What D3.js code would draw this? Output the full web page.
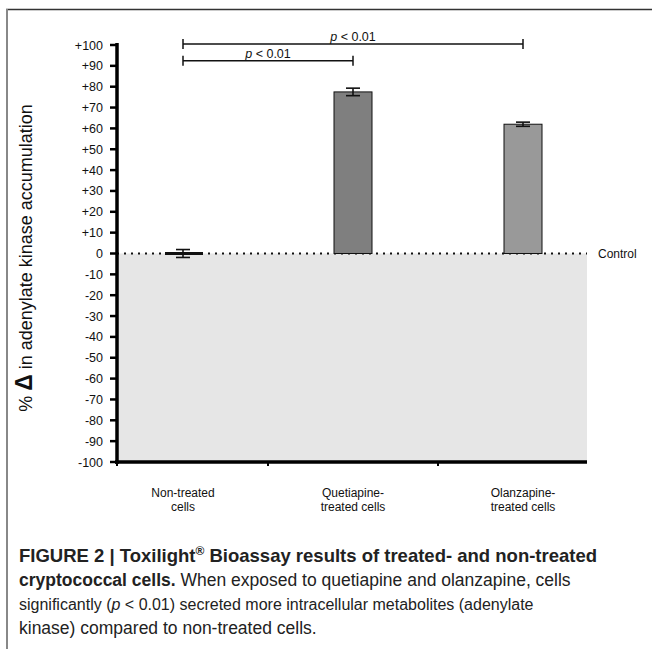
<!DOCTYPE html>
<html>
<head>
<meta charset="utf-8">
<script src="https://cdn.jsdelivr.net/npm/d3@7"></script>
<style>
  html, body { margin: 0; padding: 0; background: #fff; }
  svg { display: block; }
  text { font-family: "Liberation Sans", Arial, sans-serif; }
</style>
</head>
<body>
<svg id="chart" width="652" height="649"></svg>
<script>
// Treatment groups and their label lines
const categories = ["Non-treated cells", "Quetiapine-treated cells", "Olanzapine-treated cells"];
const categoryLines = [["Non-treated", "cells"], ["Quetiapine-", "treated cells"], ["Olanzapine-", "treated cells"]];
// % change in adenylate kinase accumulation relative to control
const values = [0, 77.5, 62];
const errors = [1.9, 1.8, 1];
const barFills = ["#7f7f7f", "#7f7f7f", "#999999"];
// Y ticks every 10 from -100 to +100
const yTicks = d3.range(-100, 101, 10);
// Significance comparisons: [from, to, bracket level]
const comparisons = [
  ["Non-treated cells", "Olanzapine-treated cells", 100],
  ["Non-treated cells", "Quetiapine-treated cells", 92]
];
const sigLabel = "< 0.01";

const svg = d3.select("#chart");

// Frame around the figure panel
svg.append("line").attr("x1", 6).attr("x2", 652).attr("y1", 9.5).attr("y2", 9.5)
  .attr("stroke", "#333").attr("stroke-width", 1.5);
svg.append("line").attr("x1", 7).attr("x2", 7).attr("y1", 9).attr("y2", 649)
  .attr("stroke", "#888").attr("stroke-width", 2);

const x = d3.scalePoint().domain(categories).range([183, 523]);
const y = d3.scaleLinear().domain([-100, 100]).range([462, 45]);
const axisLeft = 117, axisRight = 587;
const barW = 38;

// Grey region below the control level
svg.append("rect")
  .attr("x", axisLeft).attr("y", y(0))
  .attr("width", axisRight - axisLeft).attr("height", y(-100) - y(0))
  .attr("fill", "#e6e6e6");

// Control dotted line
svg.append("line")
  .attr("x1", axisLeft).attr("x2", axisRight)
  .attr("y1", y(0)).attr("y2", y(0))
  .attr("stroke", "#111").attr("stroke-width", 2).attr("stroke-dasharray", "2,5");
svg.append("text").attr("x", 598).attr("y", y(0) + 4.5)
  .attr("font-size", 12).attr("fill", "#111").text("Control");

// Bars
const bars = svg.append("g");
categories.forEach((c, i) => {
  const v = values[i];
  const top = y(Math.max(0, v)), bottom = y(Math.min(0, v));
  if (v !== 0) {
    bars.append("rect")
      .attr("x", x(c) - barW / 2).attr("y", top)
      .attr("width", barW).attr("height", bottom - top)
      .attr("fill", barFills[i]).attr("stroke", "#111").attr("stroke-width", 1);
  } else {
    bars.append("line")
      .attr("x1", x(c) - barW / 2 + 1).attr("x2", x(c) + barW / 2 + 1)
      .attr("y1", y(0)).attr("y2", y(0))
      .attr("stroke", "#111").attr("stroke-width", 3);
  }
  // error bar
  const eb = bars.append("g").attr("stroke", "#111").attr("stroke-width", 1.6);
  eb.append("line").attr("x1", x(c)).attr("x2", x(c))
    .attr("y1", y(v + errors[i])).attr("y2", y(v - errors[i]));
  [v + errors[i], v - errors[i]].forEach(e => {
    eb.append("line").attr("x1", x(c) - 7).attr("x2", x(c) + 7)
      .attr("y1", y(e)).attr("y2", y(e));
  });
});

// Y axis
const yAxisG = svg.append("g");
yAxisG.append("line").attr("x1", axisLeft).attr("x2", axisLeft)
  .attr("y1", y(100) - 2).attr("y2", y(-100) + 2)
  .attr("stroke", "#000").attr("stroke-width", 3.5);
yTicks.forEach(t => {
  yAxisG.append("line").attr("x1", axisLeft - 7).attr("x2", axisLeft)
    .attr("y1", y(t)).attr("y2", y(t))
    .attr("stroke", "#000").attr("stroke-width", 2.5);
  yAxisG.append("text").attr("x", 103).attr("y", y(t) + 4.5)
    .attr("text-anchor", "end").attr("font-size", 12.5).attr("fill", "#111")
    .text(t > 0 ? "+" + t : String(t));
});

// X axis
const xAxisG = svg.append("g");
xAxisG.append("line").attr("x1", axisLeft - 2).attr("x2", axisRight)
  .attr("y1", y(-100)).attr("y2", y(-100))
  .attr("stroke", "#000").attr("stroke-width", 3.5);
const step = x.step();
[axisLeft].concat(categories.slice(0, -1).map(c => x(c) + step / 2)).forEach(tx => {
  xAxisG.append("line").attr("x1", tx).attr("x2", tx)
    .attr("y1", y(-100)).attr("y2", y(-100) + 4)
    .attr("stroke", "#000").attr("stroke-width", 2);
});
categories.forEach((c, i) => {
  const t = xAxisG.append("text").attr("x", x(c)).attr("y", 497)
    .attr("text-anchor", "middle").attr("font-size", 12).attr("fill", "#111");
  categoryLines[i].forEach((ln, j) => {
    t.append("tspan").attr("x", x(c)).attr("dy", j === 0 ? 0 : 14).text(ln);
  });
});

// Y axis title
const yTitle = svg.append("text")
  .attr("transform", `translate(32, ${258}) rotate(-90)`)
  .attr("text-anchor", "middle").attr("font-size", 18).attr("fill", "#111");
yTitle.append("tspan").text("% ");
yTitle.append("tspan").attr("font-size", 23).attr("font-weight", "bold").text("Δ");
yTitle.append("tspan").text(" in adenylate kinase accumulation");

// Significance brackets
comparisons.forEach(([a, b, level]) => {
  const g = svg.append("g").attr("stroke", "#111").attr("stroke-width", 1.5);
  const yy = y(level) - 1;
  g.append("line").attr("x1", x(a)).attr("x2", x(b)).attr("y1", yy).attr("y2", yy);
  [a, b].forEach(k => g.append("line").attr("x1", x(k)).attr("x2", x(k))
    .attr("y1", yy - 5).attr("y2", yy + 5));
  const t = svg.append("text").attr("x", (x(a) + x(b)) / 2).attr("y", yy - 3)
    .attr("text-anchor", "middle").attr("font-size", 12.5).attr("fill", "#111");
  t.append("tspan").attr("font-style", "italic").text("p");
  t.append("tspan").text(" " + sigLabel);
});

// Figure caption
const cap = svg.append("g").attr("fill", "#222");
const l1 = cap.append("text").attr("x", 19).attr("y", 562)
  .attr("font-weight", "bold").attr("font-size", 18.5);
l1.append("tspan").text("FIGURE 2 | Toxilight");
l1.append("tspan").attr("font-size", 12).attr("dy", -7).text("®");
l1.append("tspan").attr("dy", 7).text(" Bioassay results of treated- and non-treated");
const l2 = cap.append("text").attr("x", 19).attr("y", 586).attr("font-size", 17.5);
l2.append("tspan").attr("font-weight", "bold").text("cryptococcal cells.");
l2.append("tspan").text(" When exposed to quetiapine and olanzapine, cells");
const l3 = cap.append("text").attr("x", 19).attr("y", 610).attr("font-size", 16);
l3.append("tspan").text("significantly (");
l3.append("tspan").attr("font-style", "italic").text("p");
l3.append("tspan").text(" < 0.01) secreted more intracellular metabolites (adenylate");
cap.append("text").attr("x", 19).attr("y", 634).attr("font-size", 17.5)
  .text("kinase) compared to non-treated cells.");
</script>
</body>
</html>
